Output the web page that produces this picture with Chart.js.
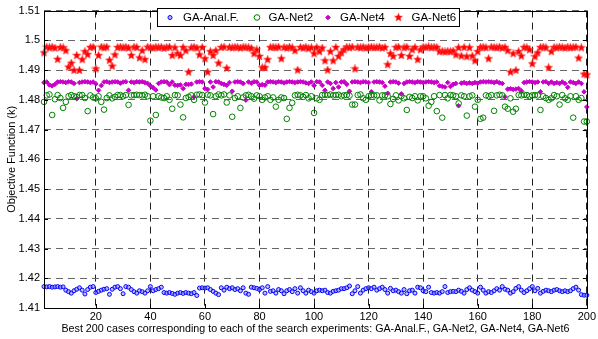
<!DOCTYPE html>
<html lang="en">
<head>
<meta charset="UTF-8">
<title>Objective function - best 200 cases</title>
<script src="https://cdn.jsdelivr.net/npm/chart.js@4/dist/chart.umd.min.js"></script>
<style>
  body { margin: 0; background: #fff; }
  #chart { display: block; }
</style>
</head>
<body>
<canvas id="chart" width="598" height="339"></canvas>
<script>
// values, one entry per case (1..200)
const seriesNames = ['GA-Anal.F.', 'GA-Net2', 'GA-Net4', 'GA-Net6'];
const xTicks = [20, 40, 60, 80, 100, 120, 140, 160, 180, 200];
const yTicks = [1.41, 1.42, 1.43, 1.44, 1.45, 1.46, 1.47, 1.48, 1.49, 1.5, 1.51];

const analF = [
  1.4172, 1.4171, 1.4172, 1.4170, 1.4171, 1.4172, 1.4170, 1.4171, 1.4160, 1.4155,
  1.4150, 1.4158, 1.4163, 1.4168, 1.4160, 1.4147, 1.4162, 1.4170, 1.4172, 1.4152,
  1.4156, 1.4160, 1.4163, 1.4165, 1.4146, 1.4163, 1.4170, 1.4172, 1.4165, 1.4148,
  1.4172, 1.4170, 1.4162, 1.4155, 1.4150, 1.4158, 1.4155, 1.4150, 1.4158, 1.4172,
  1.4158, 1.4162, 1.4165, 1.4170, 1.4152, 1.4150, 1.4152, 1.4149, 1.4146, 1.4150,
  1.4152, 1.4149, 1.4152, 1.4150, 1.4148, 1.4152, 1.4142, 1.4167, 1.4168, 1.4167,
  1.4168, 1.4162, 1.4156, 1.4150, 1.4145, 1.4168, 1.4160, 1.4170, 1.4165, 1.4168,
  1.4162, 1.4165, 1.4158, 1.4168, 1.4150, 1.4146, 1.4170, 1.4168, 1.4166, 1.4162,
  1.4168, 1.4150, 1.4172, 1.4156, 1.4158, 1.4150, 1.4162, 1.4158, 1.4148, 1.4158,
  1.4162, 1.4155, 1.4165, 1.4150, 1.4168, 1.4158, 1.4150, 1.4160, 1.4155, 1.4150,
  1.4158, 1.4160, 1.4158, 1.4160, 1.4152, 1.4150, 1.4156, 1.4158, 1.4160, 1.4165,
  1.4165, 1.4168, 1.4174, 1.4148, 1.4158, 1.4172, 1.4150, 1.4160, 1.4165, 1.4168,
  1.4165, 1.4170, 1.4160, 1.4165, 1.4170, 1.4162, 1.4150, 1.4166, 1.4158, 1.4160,
  1.4155, 1.4150, 1.4162, 1.4148, 1.4158, 1.4160, 1.4150, 1.4170, 1.4168, 1.4158,
  1.4155, 1.4170, 1.4152, 1.4150, 1.4152, 1.4150, 1.4155, 1.4172, 1.4152, 1.4155,
  1.4156, 1.4155, 1.4160, 1.4156, 1.4150, 1.4162, 1.4168, 1.4160, 1.4155, 1.4150,
  1.4170, 1.4160, 1.4150, 1.4155, 1.4152, 1.4158, 1.4165, 1.4160, 1.4172, 1.4163,
  1.4160, 1.4150, 1.4155, 1.4166, 1.4172, 1.4160, 1.4152, 1.4158, 1.4165, 1.4172,
  1.4158, 1.4166, 1.4150, 1.4156, 1.4160, 1.4158, 1.4155, 1.4160, 1.4162, 1.4158,
  1.4155, 1.4158, 1.4155, 1.4158, 1.4165, 1.4170, 1.4160, 1.4145, 1.4143, 1.4143
];

const net2 = [
  1.4793, 1.4815, 1.4818, 1.4749, 1.4802, 1.4816, 1.4806, 1.4773, 1.4793, 1.4812,
  1.4816, 1.4812, 1.4809, 1.4816, 1.4816, 1.4806, 1.4762, 1.4815, 1.4808, 1.4805,
  1.4812, 1.4793, 1.4767, 1.4806, 1.4815, 1.4805, 1.4810, 1.4816, 1.4816, 1.4812,
  1.4816, 1.4783, 1.4815, 1.4816, 1.4817, 1.4816, 1.4815, 1.4817, 1.4812, 1.4730,
  1.4812, 1.4749, 1.4812, 1.4808, 1.4806, 1.4812, 1.4800, 1.4770, 1.4816, 1.4815,
  1.4784, 1.4741, 1.4806, 1.4810, 1.4815, 1.4800, 1.4817, 1.4818, 1.4816, 1.4791,
  1.4817, 1.4815, 1.4752, 1.4812, 1.4818, 1.4815, 1.4818, 1.4791, 1.4815, 1.4743,
  1.4806, 1.4812, 1.4773, 1.4808, 1.4815, 1.4817, 1.4812, 1.4804, 1.4815, 1.4812,
  1.4800, 1.4808, 1.4812, 1.4800, 1.4808, 1.4777, 1.4800, 1.4808, 1.4806, 1.4736,
  1.4773, 1.4790, 1.4815, 1.4817, 1.4815, 1.4810, 1.4816, 1.4805, 1.4812, 1.4756,
  1.4805, 1.4800, 1.4816, 1.4817, 1.4816, 1.4818, 1.4815, 1.4816, 1.4817, 1.4812,
  1.4815, 1.4816, 1.4814, 1.4784, 1.4784, 1.4816, 1.4818, 1.4805, 1.4800, 1.4812,
  1.4816, 1.4815, 1.4815, 1.4798, 1.4815, 1.4815, 1.4812, 1.4786, 1.4803, 1.4815,
  1.4798, 1.4812, 1.4805, 1.4766, 1.4810, 1.4806, 1.4812, 1.4798, 1.4812, 1.4812,
  1.4805, 1.4780, 1.4793, 1.4812, 1.4762, 1.4816, 1.4740, 1.4816, 1.4805, 1.4816,
  1.4815, 1.4812, 1.4788, 1.4815, 1.4812, 1.4747, 1.4812, 1.4815, 1.4777, 1.4800,
  1.4736, 1.4740, 1.4815, 1.4812, 1.4816, 1.4763, 1.4815, 1.4817, 1.4815, 1.4777,
  1.4770, 1.4805, 1.4760, 1.4770, 1.4816, 1.4815, 1.4817, 1.4816, 1.4812, 1.4815,
  1.4816, 1.4815, 1.4766, 1.4812, 1.4806, 1.4800, 1.4805, 1.4816, 1.4812, 1.4784,
  1.4816, 1.4805, 1.4800, 1.4812, 1.4740, 1.4812, 1.4800, 1.4806, 1.4727, 1.4727
];

const net4 = [
  1.4858, 1.4860, 1.4850, 1.4847, 1.4852, 1.4860, 1.4861, 1.4860, 1.4858, 1.4861,
  1.4860, 1.4855, 1.4804, 1.4858, 1.4860, 1.4861, 1.4860, 1.4858, 1.4860, 1.4854,
  1.4832, 1.4848, 1.4860, 1.4861, 1.4858, 1.4860, 1.4861, 1.4860, 1.4856, 1.4860,
  1.4861, 1.4832, 1.4860, 1.4858, 1.4861, 1.4860, 1.4861, 1.4858, 1.4855, 1.4847,
  1.4841, 1.4833, 1.4855, 1.4860, 1.4861, 1.4860, 1.4851, 1.4860, 1.4849, 1.4849,
  1.4850, 1.4838, 1.4852, 1.4852, 1.4853, 1.4810, 1.4860, 1.4861, 1.4860, 1.4838,
  1.4835, 1.4860, 1.4843, 1.4861, 1.4860, 1.4855, 1.4852, 1.4849, 1.4858, 1.4829,
  1.4860, 1.4861, 1.4860, 1.4855, 1.4799, 1.4860, 1.4856, 1.4861, 1.4860, 1.4849,
  1.4851, 1.4849, 1.4860, 1.4861, 1.4860, 1.4858, 1.4861, 1.4860, 1.4857, 1.4860,
  1.4861, 1.4860, 1.4858, 1.4860, 1.4861, 1.4860, 1.4857, 1.4855, 1.4860, 1.4848,
  1.4861, 1.4860, 1.4849, 1.4832, 1.4860, 1.4855, 1.4838, 1.4858, 1.4843, 1.4860,
  1.4861, 1.4852, 1.4829, 1.4860, 1.4861, 1.4860, 1.4858, 1.4861, 1.4860, 1.4858,
  1.4827, 1.4860, 1.4861, 1.4860, 1.4858, 1.4846, 1.4822, 1.4860, 1.4861, 1.4860,
  1.4856, 1.4820, 1.4855, 1.4860, 1.4861, 1.4860, 1.4858, 1.4861, 1.4860, 1.4858,
  1.4860, 1.4861, 1.4860, 1.4858, 1.4860, 1.4847, 1.4845, 1.4843, 1.4858, 1.4845,
  1.4852, 1.4855, 1.4780, 1.4856, 1.4858, 1.4855, 1.4857, 1.4855, 1.4858, 1.4856,
  1.4860, 1.4861, 1.4860, 1.4861, 1.4860, 1.4858, 1.4861, 1.4857, 1.4855, 1.4810,
  1.4836, 1.4837, 1.4835, 1.4836, 1.4838, 1.4830, 1.4858, 1.4860, 1.4861, 1.4860,
  1.4858, 1.4860, 1.4827, 1.4860, 1.4861, 1.4855, 1.4860, 1.4855, 1.4858, 1.4855,
  1.4860, 1.4855, 1.4842, 1.4860, 1.4858, 1.4855, 1.4860, 1.4855, 1.4827, 1.4776
];

const net6 = [
  1.4958, 1.4977, 1.4975, 1.4977, 1.4974, 1.4936, 1.4976, 1.4975, 1.4965, 1.4910,
  1.4923, 1.4899, 1.4949, 1.4899, 1.4935, 1.4962, 1.4952, 1.4976, 1.4977, 1.4904,
  1.4949, 1.4977, 1.4975, 1.4977, 1.4933, 1.4913, 1.4951, 1.4976, 1.4977, 1.4975,
  1.4977, 1.4974, 1.4949, 1.4977, 1.4976, 1.4941, 1.4965, 1.4935, 1.4977, 1.4976,
  1.4974, 1.4977, 1.4975, 1.4977, 1.4973, 1.4976, 1.4977, 1.4949, 1.4975, 1.4955,
  1.4949, 1.4976, 1.4965, 1.4893, 1.4975, 1.4977, 1.4974, 1.4951, 1.4976, 1.4938,
  1.4893, 1.4962, 1.4949, 1.4965, 1.4923, 1.4976, 1.4977, 1.4906, 1.4976, 1.4975,
  1.4977, 1.4976, 1.4974, 1.4977, 1.4976, 1.4975, 1.4973, 1.4955, 1.4968, 1.4946,
  1.4908, 1.4908, 1.4935, 1.4976, 1.4977, 1.4975, 1.4977, 1.4938, 1.4976, 1.4974,
  1.4977, 1.4975, 1.4965, 1.4900, 1.4976, 1.4974, 1.4977, 1.4972, 1.4975, 1.4955,
  1.4976, 1.4962, 1.4974, 1.4931, 1.4900, 1.4962, 1.4931, 1.4976, 1.4946, 1.4958,
  1.4968, 1.4977, 1.4975, 1.4977, 1.4904, 1.4976, 1.4975, 1.4977, 1.4974, 1.4976,
  1.4977, 1.4975, 1.4976, 1.4977, 1.4974, 1.4976, 1.4918, 1.4955, 1.4946, 1.4976,
  1.4977, 1.4949, 1.4975, 1.4977, 1.4946, 1.4968, 1.4976, 1.4935, 1.4968, 1.4977,
  1.4976, 1.4978, 1.4975, 1.4977, 1.4976, 1.4962, 1.4963, 1.4961, 1.4963, 1.4962,
  1.4964, 1.4951, 1.4975, 1.4947, 1.4976, 1.4945, 1.4975, 1.4947, 1.4931, 1.4962,
  1.4976, 1.4977, 1.4975, 1.4938, 1.4977, 1.4976, 1.4975, 1.4977, 1.4974, 1.4976,
  1.4965, 1.4893, 1.4955, 1.4899, 1.4962, 1.4947, 1.4976, 1.4975, 1.4968, 1.4921,
  1.4945, 1.4958, 1.4976, 1.4977, 1.4975, 1.4908, 1.4962, 1.4976, 1.4975, 1.4977,
  1.4976, 1.4974, 1.4977, 1.4975, 1.4976, 1.4977, 1.4940, 1.4975, 1.4886, 1.4884
];

const FONT = '"Liberation Sans", Arial, Helvetica, sans-serif';

// filled pentagram marker, like matlab's 'p'
function makeStar(size, color) {
  const c = document.createElement('canvas');
  c.width = size; c.height = size;
  const g = c.getContext('2d');
  const cx = size / 2, cy = size / 2, ro = size / 2 - 0.3, ri = ro * 0.45;
  g.beginPath();
  for (let k = 0; k < 10; k++) {
    const r = k % 2 ? ri : ro;
    const a = -Math.PI / 2 + k * Math.PI / 5;
    g.lineTo(cx + r * Math.cos(a), cy + r * Math.sin(a));
  }
  g.closePath();
  g.fillStyle = color;
  g.fill();
  g.strokeStyle = 'rgba(255,60,60,0.6)';
  g.lineWidth = 0.9;
  g.stroke();
  return c;
}
const starImg = makeStar(9, '#ff0000');

function toPoints(vals) {
  return vals.map((v, i) => ({ x: i + 1, y: v }));
}

const styles = [
  { pointStyle: 'circle', pointRadius: 2, borderColor: '#0000ff', backgroundColor: 'rgba(140,140,255,0.55)', borderWidth: 1 },
  { pointStyle: 'circle', pointRadius: 2.8, borderColor: '#008000', backgroundColor: 'rgba(0,0,0,0)', borderWidth: 1 },
  { pointStyle: 'rectRot', pointRadius: 2.3, borderColor: '#c800c8', backgroundColor: '#c800c8', borderWidth: 1 },
  { pointStyle: starImg, pointRadius: 4, borderColor: '#ff0000', backgroundColor: '#ff0000', borderWidth: 1 }
];

const datasets = [analF, net2, net4, net6].map((vals, k) => ({
  label: seriesNames[k],
  data: toPoints(vals),
  showLine: false,
  clip: 6,
  ...styles[k]
}));

// box frame with inward ticks + boxed legend inside the axes
const framePlugin = {
  id: 'frame',
  afterDraw(chart) {
    const ctx = chart.ctx;
    const a = chart.chartArea;
    const xs = chart.scales.x, ys = chart.scales.y;
    ctx.save();
    ctx.strokeStyle = '#000';
    ctx.lineWidth = 1;
    ctx.strokeRect(Math.round(a.left) + 0.5, Math.round(a.top) + 0.5,
      Math.round(a.right - a.left), Math.round(a.bottom - a.top));
    const tl = 4;
    ctx.beginPath();
    xTicks.forEach(v => {
      const px = Math.round(xs.getPixelForValue(v)) + 0.5;
      ctx.moveTo(px, a.bottom); ctx.lineTo(px, a.bottom - tl);
      ctx.moveTo(px, a.top); ctx.lineTo(px, a.top + tl);
    });
    yTicks.forEach(v => {
      const py = Math.round(ys.getPixelForValue(v)) + 0.5;
      ctx.moveTo(a.left, py); ctx.lineTo(a.left + tl, py);
      ctx.moveTo(a.right, py); ctx.lineTo(a.right - tl, py);
    });
    ctx.stroke();

    // legend
    const box = { l: 157.5, t: 8.5, r: 459.5, b: 26.5 };
    ctx.fillStyle = '#fff';
    ctx.fillRect(box.l, box.t, box.r - box.l, box.b - box.t);
    ctx.strokeRect(box.l, box.t, box.r - box.l, box.b - box.t);
    const my = 17.5;
    const markX = [170, 257, 328, 398.5];
    const textX = [183, 268.5, 340, 411.5];
    ctx.font = '11.5px ' + FONT;
    ctx.textBaseline = 'middle';
    ctx.textAlign = 'left';
    seriesNames.forEach((name, k) => {
      const s = styles[k];
      const mx = markX[k];
      ctx.lineWidth = 1;
      ctx.strokeStyle = s.borderColor;
      ctx.fillStyle = s.backgroundColor;
      if (k === 3) {
        ctx.drawImage(starImg, mx - starImg.width / 2, my - starImg.height / 2);
      } else if (k === 2) {
        const r = s.pointRadius;
        ctx.beginPath();
        ctx.moveTo(mx - r, my); ctx.lineTo(mx, my - r); ctx.lineTo(mx + r, my); ctx.lineTo(mx, my + r);
        ctx.closePath(); ctx.fill(); ctx.stroke();
      } else {
        ctx.beginPath();
        ctx.arc(mx, my, s.pointRadius, 0, Math.PI * 2);
        ctx.fill(); ctx.stroke();
      }
      ctx.fillStyle = '#000';
      ctx.fillText(name, textX[k], my);
    });
    ctx.restore();
  }
};

new Chart(document.getElementById('chart'), {
  type: 'scatter',
  data: { datasets },
  options: {
    responsive: false,
    animation: false,
    devicePixelRatio: 1,
    layout: { padding: { top: 8, right: 7, left: 0, bottom: 0 } },
    plugins: { legend: { display: false }, tooltip: { enabled: false } },
    scales: {
      x: {
        type: 'linear',
        min: 1,
        max: 200,
        afterBuildTicks: s => { s.ticks = xTicks.map(v => ({ value: v })); },
        afterFit: s => { s.height = 31; },
        ticks: { color: '#000', font: { family: FONT, size: 11 }, padding: 2, maxRotation: 0, autoSkip: false },
        grid: { color: '#222', lineWidth: 1, drawTicks: false },
        border: { display: false, dash: [7, 5] },
        title: {
          display: true,
          text: 'Best 200 cases corresponding to each of the search experiments: GA-Anal.F., GA-Net2, GA-Net4, GA-Net6',
          color: '#000',
          font: { family: FONT, size: 10.7 },
          padding: { top: 0, bottom: 4 }
        }
      },
      y: {
        min: 1.41,
        max: 1.51,
        afterBuildTicks: s => { s.ticks = yTicks.map(v => ({ value: v })); },
        afterFit: s => { s.width = 44; },
        ticks: {
          color: '#000',
          font: { family: FONT, size: 11 },
          padding: 4,
          callback: v => String(Number(v.toFixed(2)))
        },
        grid: { color: '#666', lineWidth: 1, drawTicks: false },
        border: { display: false, dash: [7, 5] },
        title: {
          display: true,
          text: 'Objective Function (k)',
          color: '#000',
          font: { family: FONT, size: 11 },
          padding: { top: 5, bottom: 0 }
        }
      }
    }
  },
  plugins: [framePlugin]
});
</script>
</body>
</html>
